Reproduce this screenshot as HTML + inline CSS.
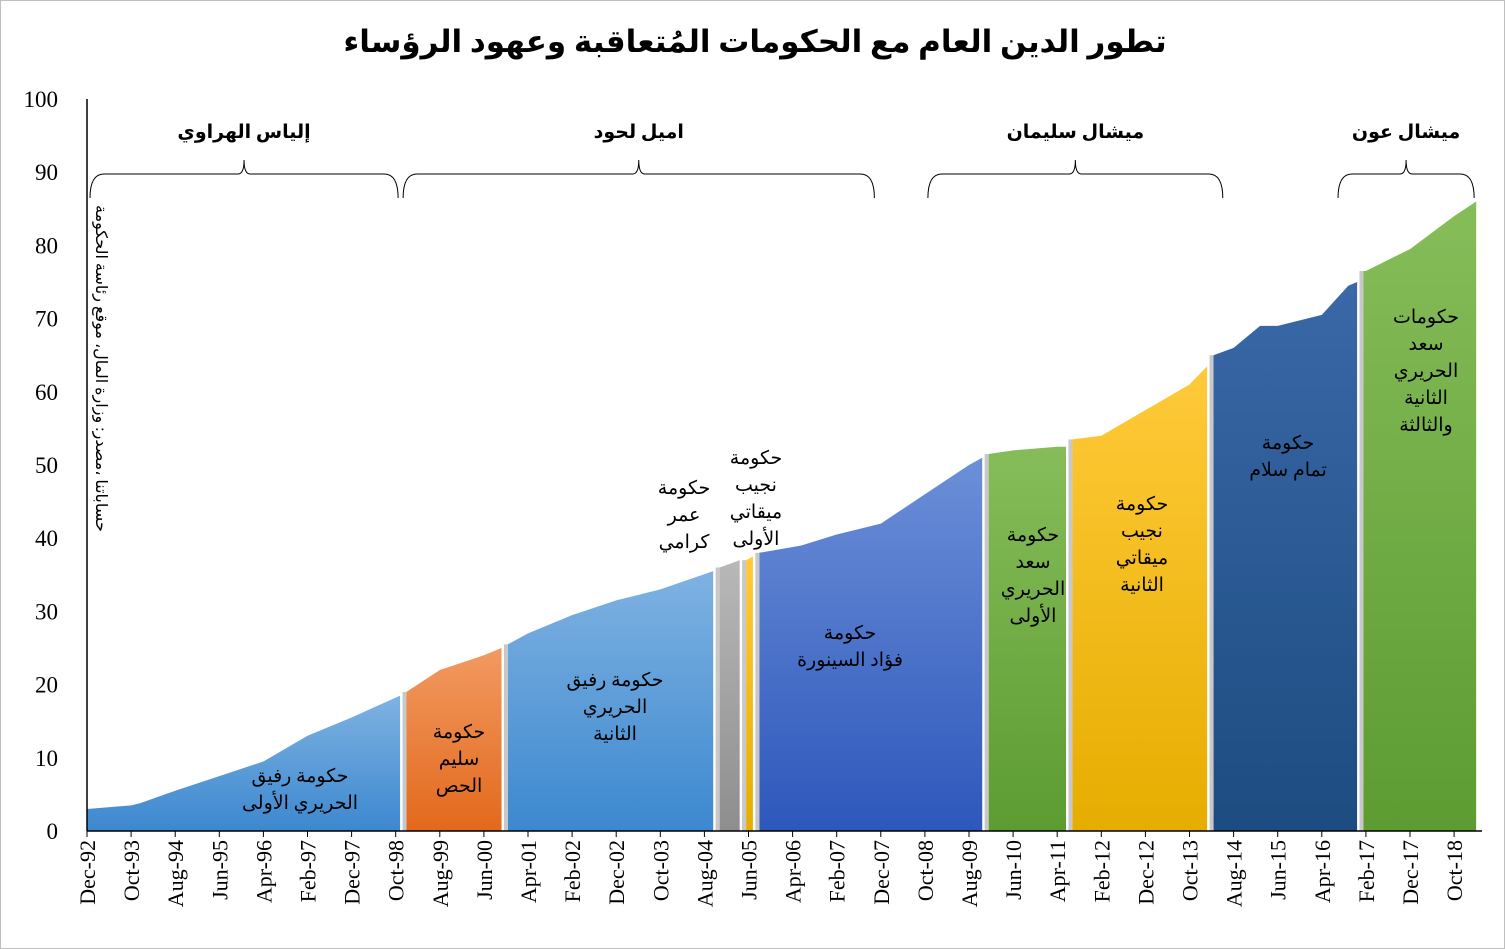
<!DOCTYPE html>
<html><head><meta charset="utf-8">
<style>
html,body{margin:0;padding:0;background:#fff;}
svg{display:block;}
text{font-family:"Liberation Serif","DejaVu Sans",serif;}
</style></head>
<body>
<svg id="chart" width="1505" height="949" viewBox="0 0 1505 949" xmlns="http://www.w3.org/2000/svg">
<defs>
<linearGradient id="gBlue1" x1="0" y1="0" x2="0" y2="1"><stop offset="0" stop-color="#7fb2e2"/><stop offset="1" stop-color="#3c88cf"/></linearGradient>
<linearGradient id="gOrange" x1="0" y1="0" x2="0" y2="1"><stop offset="0" stop-color="#f29a62"/><stop offset="1" stop-color="#e2691c"/></linearGradient>
<linearGradient id="gGray" x1="0" y1="0" x2="0" y2="1"><stop offset="0" stop-color="#b8b8b8"/><stop offset="1" stop-color="#8e8e8e"/></linearGradient>
<linearGradient id="gGold" x1="0" y1="0" x2="0" y2="1"><stop offset="0" stop-color="#ffca3a"/><stop offset="1" stop-color="#e6ad00"/></linearGradient>
<linearGradient id="gBlue2" x1="0" y1="0" x2="0" y2="1"><stop offset="0" stop-color="#6c8fd8"/><stop offset="1" stop-color="#2d57bb"/></linearGradient>
<linearGradient id="gGreen" x1="0" y1="0" x2="0" y2="1"><stop offset="0" stop-color="#86bd5a"/><stop offset="1" stop-color="#5c9c31"/></linearGradient>
<linearGradient id="gNavy" x1="0" y1="0" x2="0" y2="1"><stop offset="0" stop-color="#3a68a8"/><stop offset="1" stop-color="#1c4c80"/></linearGradient>
</defs>
<rect x="0.5" y="0.5" width="1504" height="948" fill="#fff" stroke="#bfbfbf"/>
<text x="755" y="52" text-anchor="middle" font-size="31" font-weight="bold" fill="#000">تطور الدين العام مع الحكومات المُتعاقبة وعهود الرؤساء</text>
<g id="areas"></g>
<g id="axes"></g>
<g id="labels"></g>
<text transform="translate(96,205) rotate(90)" font-size="16" fill="#000" text-anchor="start" direction="ltr"><tspan>حساباتنا ،مصدر: وزارة المال، موقع رئاسة الحكومة</tspan></text>
</svg>
<script>
// month index 0 = Dec-92
const months = [0,10,12,20,30,40,50,60,71,72,80,90,94,95,100,110,120,130,142,143,148,149,151,152,162,170,180,190,200,203,204,210,220,222,223,230,240,250,254,255,260,266,270,280,286,288,289,290,300,310,315];
const debt   = [3.0,3.5,3.8,5.5,7.5,9.5,13,15.5,18.5,19,22,24,25,25.5,27,29.5,31.5,33,35.5,36,37,37,37.5,38,39,40.5,42,46,50,51,51.5,52,52.5,52.5,53.5,54,57.5,61,63.5,65,66,69,69,70.5,74.5,75,76.5,76.5,79.5,84,86];
const segStart = [0,72,95,143,149,152,204,223,255,289];
const segEnd   = [71,94,142,148,151,203,222,254,288,315];
const segFill  = ['gBlue1','gOrange','gBlue1','gGray','gGold','gBlue2','gGreen','gGold','gNavy','gGreen'];
const segNames = ['hariri-1','hoss','hariri-2','karami','mikati-1','siniora','saad-hariri-1','mikati-2','salam','saad-hariri-2'];
const yTicks = [0,10,20,30,40,50,60,70,80,90,100];
const xTickLabels = ['Dec-92','Oct-93','Aug-94','Jun-95','Apr-96','Feb-97','Dec-97','Oct-98','Aug-99','Jun-00','Apr-01','Feb-02','Dec-02','Oct-03','Aug-04','Jun-05','Apr-06','Feb-07','Dec-07','Oct-08','Aug-09','Jun-10','Apr-11','Feb-12','Dec-12','Oct-13','Aug-14','Jun-15','Apr-16','Feb-17','Dec-17','Oct-18'];
const presNames = ['إلياس الهراوي','اميل لحود','ميشال سليمان','ميشال عون'];
const presStart = [0,71,190,283];
const presEnd = [71,179,258,315];
const govLabels = [
 ['حكومة رفيق','الحريري الأولى'],['حكومة','سليم','الحص'],['حكومة رفيق','الحريري','الثانية'],['حكومة','عمر','كرامي'],['حكومة','نجيب','ميقاتي','الأولى'],['حكومة','فؤاد السينورة'],['حكومة','سعد','الحريري','الأولى'],['حكومة','نجيب','ميقاتي','الثانية'],['حكومة','تمام سلام'],['حكومات','سعد','الحريري','الثانية','والثالثة']];
const govLabelX = [300,459,615,684,756,850,1033,1142,1288,1426];
const govLabelY = [782,738,686,494,464,639,541,510,449,323];

const NS='http://www.w3.org/2000/svg';
const X0=87, PX=4.41, Y0=831, PY=7.32;
const x = m => X0 + m*PX;
const y = v => Y0 - v*PY;
function mk(tag, attrs, parent){const e=document.createElementNS(NS,tag);for(const k in attrs)e.setAttribute(k,attrs[k]);parent.appendChild(e);return e;}
const gA=document.getElementById('areas'), gX=document.getElementById('axes'), gL=document.getElementById('labels');

for(let s=0;s<segStart.length;s++){
  let pts=[];
  for(let i=0;i<months.length;i++) if(months[i]>=segStart[s]&&months[i]<=segEnd[s]) pts.push([x(months[i]),y(debt[i])]);
  const xs=x(segStart[s])+(s>0?2:0), xe=x(segEnd[s])+(s<segStart.length-1?0:0);
  pts[0][0]=xs; pts[pts.length-1][0]=xe;
  let d='M'+xs+','+Y0+' '+pts.map(p=>'L'+p[0].toFixed(1)+','+p[1].toFixed(1)).join(' ')+' L'+xe+','+Y0+' Z';
  const p=mk('path',{d:d,fill:'url(#'+segFill[s]+')'},gA);
  
  
  if(s>0){
    const ix=months.indexOf(segStart[s]);
    const l=mk('rect',{x:x(segStart[s])-2,y:y(debt[ix]),width:4,height:Y0-y(debt[ix]),fill:'#c8c8c8'},gA);
    
    
  }
}
// y axis
const ya=mk('line',{x1:X0,y1:y(100),x2:X0,y2:Y0,stroke:'#000','stroke-width':1.5},gX);


yTicks.forEach(v=>{
  const t=mk('text',{x:58,y:y(v)+8,'text-anchor':'end','font-size':23,fill:'#000'},gX);
  t.textContent=v;
  
  
});
const xa=mk('line',{x1:X0,y1:Y0,x2:1482,y2:Y0,stroke:'#000','stroke-width':1.5},gX);


xTickLabels.forEach((lab,i)=>{
  const m=i*10, xx=x(m);
  const tk=mk('line',{x1:xx,y1:Y0,x2:xx,y2:Y0+6,stroke:'#000'},gX);
  
  
  const t=mk('text',{transform:'translate('+(xx+8)+','+(Y0+9)+') rotate(-90)','text-anchor':'end','font-size':22,fill:'#000'},gX);
  t.textContent=lab;
  
  
});
// president brackets
presNames.forEach((n,i)=>{
  const a=x(presStart[i])+3, b=x(presEnd[i])-2, c=(a+b)/2;
  const d='M'+a+',198 Q'+a+',174 '+(a+14)+',174 L'+(c-6)+',174 Q'+c+',174 '+c+',160 Q'+c+',174 '+(c+6)+',174 L'+(b-14)+',174 Q'+b+',174 '+b+',198';
  const p=mk('path',{d:d,fill:'none',stroke:'#000','stroke-width':1},gL);
  
  
  const t=mk('text',{x:c,y:138,'text-anchor':'middle','font-size':19,'font-weight':'bold',fill:'#000'},gL);
  t.textContent=n;
  
  
});
govLabels.forEach((lines,i)=>{
  const t=mk('text',{x:govLabelX[i],y:govLabelY[i],'text-anchor':'middle','font-size':19,fill:'#000'},gL);
  
  
  lines.forEach((ln,j)=>{const s=mk('tspan',{x:govLabelX[i],dy:j?27:0},t);s.textContent=ln;});
});
</script>
</body></html>
